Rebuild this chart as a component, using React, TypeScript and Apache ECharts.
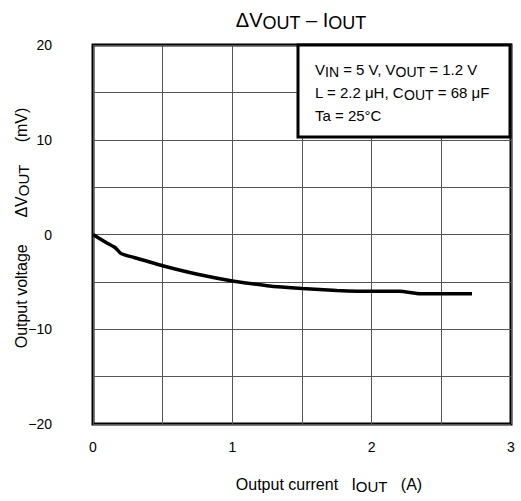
import React, { useEffect, useRef } from "react";
import * as echarts from "echarts";

const currentA = [0, 0.1, 0.16, 0.2, 0.3, 0.5, 0.75, 1.0, 1.25, 1.5, 1.75, 2.0, 2.2, 2.35, 2.72];
const deltaVmV = [0, -0.9, -1.4, -2.0, -2.45, -3.3, -4.2, -4.9, -5.4, -5.7, -5.9, -6.0, -6.0, -6.25, -6.25];
const xTicks = { min: 0, max: 3, step: 0.5 };
const yTicks = { min: -20, max: 20, step: 5 };
const legendLines = [
  "{m|V}{s|IN}{m| = 5 V, V}{s|OUT}{m| = 1.2 V}",
  "{m|L = 2.2 μH, C}{s|OUT}{m| = 68 μF}",
  "{m|Ta = 25°C}",
];

const FONT = "'Liberation Sans', Arial, sans-serif";

function rich(main: number, sub: number) {
  return {
    m: { fontSize: main, fontFamily: FONT, color: "#000", lineHeight: main + 4 },
    s: { fontSize: sub, fontFamily: FONT, color: "#000", lineHeight: sub + 1, verticalAlign: "bottom" },
  };
}

export default function App() {
  const ref = useRef<HTMLDivElement>(null);
  useEffect(() => {
    if (!ref.current) return;
    const chart = echarts.init(ref.current, null, { renderer: "svg" });
    const data = currentA.map((x, i) => [x, deltaVmV[i]]);
    chart.setOption({
      animation: false,
      backgroundColor: "#fff",
      grid: {
        left: 93,
        right: 10,
        top: 45,
        bottom: 77,
        show: true,
        borderColor: "#000",
        borderWidth: 3,
        backgroundColor: "transparent",
      },
      xAxis: {
        type: "value",
        min: xTicks.min,
        max: xTicks.max,
        interval: xTicks.step,
        axisLine: { show: false },
        axisTick: { show: false },
        splitLine: { show: true, lineStyle: { color: "#555", width: 1 } },
        axisLabel: {
          margin: 16,
          fontSize: 14,
          fontFamily: FONT,
          color: "#000",
          formatter: (v: number) => (Number.isInteger(v) ? String(v) : ""),
        },
      },
      yAxis: {
        type: "value",
        min: yTicks.min,
        max: yTicks.max,
        interval: yTicks.step,
        axisLine: { show: false },
        axisTick: { show: false },
        splitLine: { show: true, lineStyle: { color: "#555", width: 1 } },
        axisLabel: {
          margin: 41,
          fontSize: 14,
          fontFamily: FONT,
          color: "#000",
          formatter: (v: number) => (v % 10 === 0 ? String(v).replace("-", "\u2212") : ""),
        },
      },
      series: [
        {
          type: "line",
          data,
          showSymbol: false,
          symbol: "none",
          smooth: 0.2,
          lineStyle: { color: "#000", width: 3.5 },
          z: 5,
        },
      ],
      graphic: [
        {
          type: "text",
          x: 301,
          y: 20,
          style: {
            text: "{m|ΔV}{s|OUT}{m| – I}{s|OUT}",
            rich: rich(20, 18),
            align: "center",
            verticalAlign: "middle",
          },
        },
        {
          type: "text",
          x: 329,
          y: 484,
          style: {
            text: "{m|Output current   I}{s|OUT}{m|   (A)}",
            rich: rich(16, 15),
            align: "center",
            verticalAlign: "middle",
          },
        },
        {
          type: "text",
          x: 21,
          y: 228,
          rotation: Math.PI / 2,
          style: {
            text: "{m|Output voltage      ΔV}{s|OUT}{m|     (mV)}",
            rich: rich(16, 15),
            align: "center",
            verticalAlign: "middle",
          },
        },
        {
          type: "rect",
          z: 10,
          shape: { x: 298, y: 45, width: 212, height: 92 },
          style: { fill: "#fff", stroke: "#000", lineWidth: 3 },
        },
        ...legendLines.map((t, i) => ({
          type: "text",
          z: 11,
          x: 315,
          y: 69 + i * 23,
          style: {
            text: t,
            rich: rich(15, 14),
            align: "left",
            verticalAlign: "middle",
          },
        })),
      ],
    });
    return () => chart.dispose();
  }, []);
  return <div ref={ref} style={{ width: 521, height: 501, position: "absolute", left: 0, top: 0 }} />;
}
